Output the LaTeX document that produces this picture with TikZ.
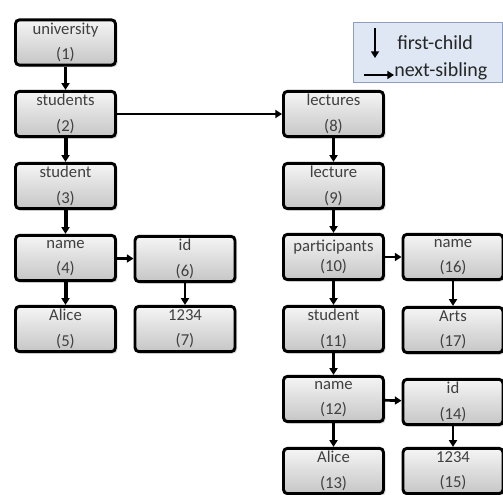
\documentclass[tikz,border=0pt]{standalone}
\usepackage{fontspec}
\setmainfont{Carlito}
\usepackage{tikz}
\usetikzlibrary{arrows.meta}
\usetikzlibrary{shadows}
\usetikzlibrary{positioning}
\definecolor{legendfill}{RGB}{222,231,243}
\definecolor{legenddraw}{RGB}{140,160,190}
\definecolor{nodetext}{RGB}{64,64,64}
\tikzset{treenode/.style={draw=black,line width=2.2pt,rounded corners=3pt,top color=gray!8,bottom color=gray!45,drop shadow={shadow xshift=1.5pt,shadow yshift=-1.5pt,opacity=0.3},minimum width=75pt,minimum height=34pt,inner sep=0pt,align=center,text=nodetext,font=\fontsize{12.5}{19}\selectfont},
link/.style={line width=2pt,-{Triangle[length=5pt,width=6pt]}},
biglink/.style={link,line width=3pt}}

\begin{document}
\begin{tikzpicture}[x=0.75pt,y=-0.75pt]
\useasboundingbox (0,0) rectangle (503,495);
% legend
\node[draw=legenddraw,fill=legendfill,line width=0.8pt,minimum width=112pt,minimum height=45pt,inner sep=0pt] (legend) at (428,52.5) {};
\coordinate (fc1) at (375,28);
\coordinate (fc2) at (375,58);
\coordinate (ns1) at (364,75);
\coordinate (ns2) at (394,75);
\draw[link] (fc1) -- (fc2);
\draw[link] (ns1) -- (ns2);
\node[anchor=west,inner sep=0pt,font=\fontsize{15}{17}\selectfont,text=black!85] (fctext) at (397,43) {first-child};
\node[anchor=west,inner sep=0pt,font=\fontsize{15}{17}\selectfont,text=black!85] (nstext) at (394,71) {next-sibling};
% left part
\node[treenode] (n1) at (65.5,42.5) {university\\(1)};
\node[treenode] (n2) at (65.5,114) {students\\(2)};
\node[treenode] (n3) at (65.5,186) {student\\(3)};
\node[treenode] (n4) at (65.5,258) {name\\(4)};
\node[treenode] (n5) at (65.5,329) {Alice\\(5)};
\node[treenode] (n6) at (185,259) {id\\(6)};
\node[treenode] (n7) at (185,329) {1234\\(7)};
% right part
\node[treenode] (n8) at (333.5,114) {lectures\\(8)};
\node[treenode] (n9) at (333.5,186) {lecture\\(9)};
\node[treenode,font=\fontsize{12.5}{15.5}\selectfont] (n10) at (333.5,257) {participants\\(10)};
\node[treenode] (n11) at (333.5,329) {student\\(11)};
\node[treenode] (n12) at (333.5,399) {name\\(12)};
\node[treenode] (n13) at (333.5,471) {Alice\\(13)};
\node[treenode] (n14) at (453,402) {id\\(14)};
\node[treenode] (n15) at (453,471) {1234\\(15)};
\node[treenode] (n16) at (453,257) {name\\(16)};
\node[treenode] (n17) at (453,330) {Arts\\(17)};
% first-child
\draw[link] (n1) -- (n2);
\draw[biglink] (n2) -- (n3);
\draw[biglink] (n3) -- (n4);
\draw[biglink] (n4) -- (n5);
\draw[link] (n6) -- (n7);
\draw[link] (n8) -- (n9);
\draw[link] (n9) -- (n10);
\draw[link] (n10) -- (n11);
\draw[link] (n11) -- (n12);
\draw[link] (n12) -- (n13);
\draw[link] (n14) -- (n15);
\draw[link] (n16) -- (n17);
% next-sibling
\draw[link] (n2) -- (n8);
\draw[link] (n4) -- (n6);
\draw[link] (n10) -- (n16);
\draw[link] (n12) -- (n14);
\end{tikzpicture}
\end{document}
